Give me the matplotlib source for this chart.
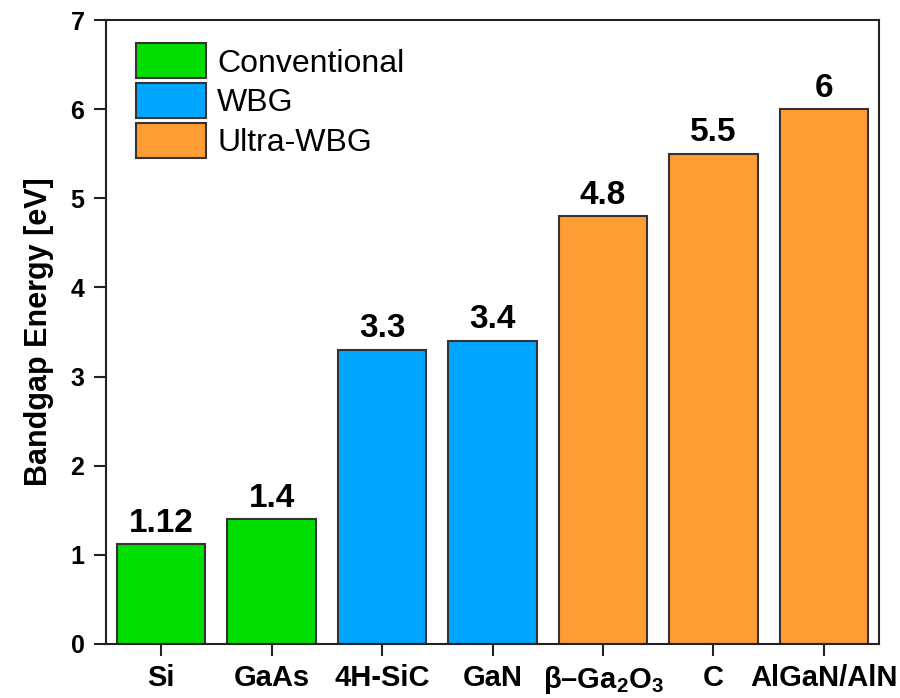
import matplotlib.pyplot as plt
from matplotlib.patches import Patch

plt.rcParams['font.family'] = ['Liberation Sans', 'DejaVu Sans']
plt.rcParams['mathtext.fontset'] = 'custom'
plt.rcParams['mathtext.bf'] = 'Liberation Sans:bold'
plt.rcParams['mathtext.rm'] = 'Liberation Sans'

# Bandgap data
materials = ['Si', 'GaAs', '4H-SiC', 'GaN', r'β–Ga$\mathbf{_2}$O$\mathbf{_3}$', 'C', 'AlGaN/AlN']
bandgap = [1.12, 1.4, 3.3, 3.4, 4.8, 5.5, 6]
labels = ['1.12', '1.4', '3.3', '3.4', '4.8', '5.5', '6']
groups = ['Conventional', 'Conventional', 'WBG', 'WBG', 'Ultra-WBG', 'Ultra-WBG', 'Ultra-WBG']

colors = {'Conventional': '#00dd00', 'WBG': '#00a6ff', 'Ultra-WBG': '#ff9c33'}

fig = plt.figure(figsize=(9, 6.98), dpi=100)
ax = fig.add_axes([0.1178, 0.0774, 0.8589, 0.8939])

x = list(range(len(materials)))
bars = ax.bar(x, bandgap, width=0.8, color=[colors[g] for g in groups],
              edgecolor='#333333', linewidth=1.5, zorder=2)

for b, v, t in zip(bars, bandgap, labels):
    ax.annotate(t, (b.get_x() + b.get_width() / 2, v), xytext=(0, 4),
                textcoords='offset points', ha='center', va='bottom',
                fontsize=24, fontweight='bold')

ax.set_xlim(-0.5, 6.5)
ax.set_ylim(0, 7)
ax.set_xticks(x)
ax.set_xticklabels(materials, fontsize=21, fontweight='bold')
ax.set_yticks(range(8))
ax.set_yticklabels([str(i) for i in range(8)], fontsize=18, fontweight='bold')
ax.tick_params(axis='both', direction='out', length=8.5, width=1.5, color='#222222')
ax.tick_params(axis='x', pad=6)
ax.tick_params(axis='y', pad=7)
for s in ax.spines.values():
    s.set_linewidth(1.5)
    s.set_color('#222222')

ax.set_ylabel('Bandgap Energy [eV]', fontsize=22, fontweight='bold', labelpad=12)

handles = [Patch(facecolor=colors[k], edgecolor='#333333', linewidth=1.5, label=k)
           for k in ['Conventional', 'WBG', 'Ultra-WBG']]
ax.legend(handles=handles, loc='upper left', bbox_to_anchor=(0.022, 0.983),
          frameon=False, fontsize=23, handlelength=2.2, handleheight=1.3,
          labelspacing=0.15, handletextpad=0.35, borderaxespad=0)

fig.savefig('out.png', dpi=100)
